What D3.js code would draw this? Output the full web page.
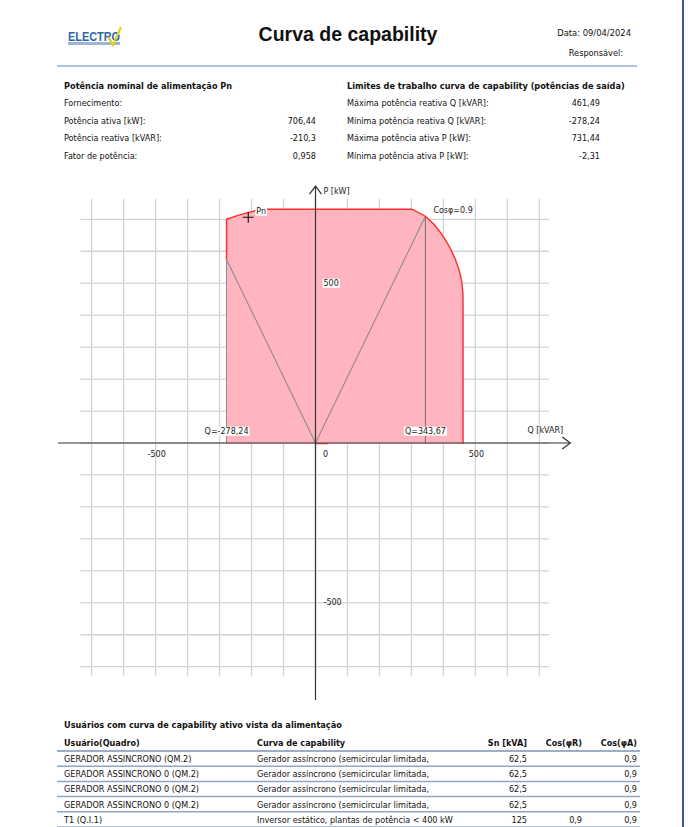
<!DOCTYPE html>
<html>
<head>
<meta charset="utf-8">
<script src="https://cdn.jsdelivr.net/npm/d3@7/dist/d3.min.js"></script>
<style>
  body { margin: 0; background: #fff; }
  text { font-family: "DejaVu Sans", Verdana, sans-serif; }
</style>
</head>
<body>
<div id="page"></div>
<script>
(function () {
    'use strict';

    // ---- data ----
    var reportDate = "09/04/2024";

    var pnLabels = ["Fornecimento:", "Potência ativa [kW]:", "Potência reativa [kVAR]:", "Fator de potência:"];
    var pnValues = ["", "706,44", "-210,3", "0,958"];

    var limitLabels = ["Máxima potência reativa Q [kVAR]:", "Mínima potência reativa Q [kVAR]:",
                       "Máxima potência ativa P [kW]:", "Mínima potência ativa P [kW]:"];
    var limitValues = ["461,49", "-278,24", "731,44", "-2,31"];

    // capability boundary (Q kVAR, P kW)
    var boundary = [
        [-278.24, 574.5], [-278.24, 700], [-240, 713], [-199, 724], [-173, 731.44],
        [302, 731.44], [343.67, 709.6], [372, 683], [393, 656], [411, 628], [424, 604],
        [437, 576], [446, 551], [453, 526], [458, 499], [461, 470], [461.49, 430],
        [461.49, -2.31]
    ];
    var minP = -2.31;
    var qMin = -278.24;
    var qCos = 343.67;
    var pCosLeft = 574.5;
    var pCosRight = 709.6;
    var pn = [-210.3, 706.44];

    var gridValues = [-700, -600, -500, -400, -300, -200, -100, 0, 100, 200, 300, 400, 500, 600, 700];
    var xTickValues = [-500, 0, 500];
    var yTickValues = [500, -500];

    var tableUsers = ["GERADOR ASSINCRONO (QM.2)", "GERADOR ASSINCRONO 0 (QM.2)", "GERADOR ASSINCRONO 0 (QM.2)",
                      "GERADOR ASSINCRONO 0 (QM.2)", "T1 (Q.I.1)"];
    var tableCurves = ["Gerador assíncrono (semicircular limitada,", "Gerador assíncrono (semicircular limitada,",
                       "Gerador assíncrono (semicircular limitada,", "Gerador assíncrono (semicircular limitada,",
                       "Inversor estático, plantas de potência < 400 kW"];
    var tableSn = ["62,5", "62,5", "62,5", "62,5", "125"];
    var tableCosR = ["", "", "", "", "0,9"];
    var tableCosA = ["0,9", "0,9", "0,9", "0,9", "0,9"];

    // ---- page ----
    var W = 689, H = 827;
    var svg = d3.select("#page").append("svg")
        .attr("width", W).attr("height", H)
        .style("display", "block");
    svg.append("rect").attr("width", W).attr("height", H).attr("fill", "#fff");

    // right page border
    svg.append("line").attr("x1", 683).attr("x2", 683).attr("y1", 0).attr("y2", H)
        .attr("stroke", "#3b5b86").attr("stroke-width", 2);

    // logo
    var logo = svg.append("g");
    logo.append("rect").attr("x", 68).attr("y", 42).attr("width", 52).attr("height", 3).attr("fill", "#9fb4d3");
    logo.append("text").attr("x", 68).attr("y", 41)
        .style("font-family", "Liberation Sans Narrow, Liberation Sans, sans-serif")
        .attr("font-size", 13).attr("font-weight", "bold").attr("fill", "#2f65ad")
        .attr("textLength", 52).attr("lengthAdjust", "spacingAndGlyphs")
        .text("ELECTRO");
    logo.append("path").attr("d", "M108,37 L113,45 L121,27")
        .attr("fill", "none").attr("stroke", "#e8d020").attr("stroke-width", 2.2);

    // title
    svg.append("text").attr("x", 348).attr("y", 41).attr("text-anchor", "middle")
        .style("font-family", "Liberation Sans, Arial, sans-serif")
        .attr("font-size", 19.5).attr("font-weight", "bold").attr("fill", "#111")
        .text("Curva de capability");

    svg.append("text").attr("x", 631).attr("y", 36).attr("text-anchor", "end")
        .attr("font-size", 8.4).attr("fill", "#111").text("Data: " + reportDate);
    svg.append("text").attr("x", 623).attr("y", 56).attr("text-anchor", "end")
        .attr("font-size", 8.2).attr("fill", "#111").text("Responsável:");

    svg.append("line").attr("x1", 57).attr("x2", 637).attr("y1", 66).attr("y2", 66)
        .attr("stroke", "#5a86bd").attr("stroke-width", 1.2);

    // info blocks
    function infoBlock(x, valueX, title, labels, values) {
        svg.append("text").attr("x", x).attr("y", 89).attr("font-size", 8.2)
            .attr("font-weight", "bold").attr("fill", "#111").text(title);
        svg.selectAll(null).data(labels).enter().append("text")
            .attr("x", x).attr("y", function (d, i) { return 106 + i * 17.7; })
            .attr("font-size", 8.1).attr("fill", "#111")
            .text(function (d) { return d; });
        svg.selectAll(null).data(values).enter().append("text")
            .attr("x", valueX).attr("y", function (d, i) { return 106 + i * 17.7; })
            .attr("text-anchor", "end").attr("font-size", 8.1).attr("fill", "#111")
            .text(function (d) { return d; });
    }
    infoBlock(64, 316, "Potência nominal de alimentação Pn", pnLabels, pnValues);
    infoBlock(347, 600, "Limites de trabalho curva de capability (potências de saída)", limitLabels, limitValues);

    // ---- capability chart ----
    var x = d3.scaleLinear().domain([-700, 700]).range([91.7, 539.3]);
    var y = d3.scaleLinear().domain([-700, 700]).range([666.7, 219.3]);
    var chart = svg.append("g");

    // grid
    chart.selectAll(null).data(gridValues).enter().append("line")
        .attr("x1", function (d) { return x(d); }).attr("x2", function (d) { return x(d); })
        .attr("y1", y(765)).attr("y2", y(-730))
        .attr("stroke", "#d3d3d3").attr("stroke-width", 1.3);
    chart.selectAll(null).data(gridValues).enter().append("line")
        .attr("y1", function (d) { return y(d); }).attr("y2", function (d) { return y(d); })
        .attr("x1", x(-735)).attr("x2", x(730))
        .attr("stroke", "#d3d3d3").attr("stroke-width", 1.3);

    // capability area
    var area = boundary.concat([[qMin, minP]]);
    var line = d3.line().x(function (d) { return x(d[0]); }).y(function (d) { return y(d[1]); });
    chart.append("path").attr("d", line(area) + "Z")
        .attr("fill", "#ffb5c0").attr("stroke", "none");

    // cos phi lines and Q limits
    chart.append("path").attr("d", line([[qMin, pCosLeft], [0, 0], [qCos, pCosRight]]))
        .attr("fill", "none").attr("stroke", "#8c8c8c").attr("stroke-width", 1.1);
    chart.append("path").attr("d", line([[qCos, 0], [qCos, pCosRight]]))
        .attr("fill", "none").attr("stroke", "#707070").attr("stroke-width", 1);
    chart.append("path").attr("d", line([[qMin, 0], [qMin, pCosLeft]]))
        .attr("fill", "none").attr("stroke", "#8c8c8c").attr("stroke-width", 1);

    // red boundary
    chart.append("path").attr("d", line(boundary))
        .attr("fill", "none").attr("stroke", "#ff2a2a").attr("stroke-width", 1.4);
    chart.append("path").attr("d", line([[0, minP], [38, minP]]))
        .attr("fill", "none").attr("stroke", "#ff4a4a").attr("stroke-width", 1.2);

    // axes
    var x0 = x(0), y0 = y(0);
    chart.append("line").attr("x1", x(-805)).attr("x2", x(797)).attr("y1", y0).attr("y2", y0)
        .attr("stroke", "#333").attr("stroke-width", 1.2);
    chart.append("line").attr("x1", x0).attr("x2", x0).attr("y1", y(804)).attr("y2", y(-804))
        .attr("stroke", "#333").attr("stroke-width", 1.2);
    chart.append("path")
        .attr("d", "M" + (x(797) - 8) + "," + (y0 - 6) + " L" + x(797) + "," + y0 + " L" + (x(797) - 8) + "," + (y0 + 6))
        .attr("fill", "none").attr("stroke", "#333").attr("stroke-width", 1.2);
    chart.append("path")
        .attr("d", "M" + (x0 - 6) + "," + (y(804) + 8) + " L" + x0 + "," + y(804) + " L" + (x0 + 6) + "," + (y(804) + 8))
        .attr("fill", "none").attr("stroke", "#333").attr("stroke-width", 1.2);

    function boxedLabel(px, py, txt, anchor, boxed) {
        var g = chart.append("g");
        var t = g.append("text").attr("x", px).attr("y", py).attr("text-anchor", anchor)
            .attr("dominant-baseline", "central").attr("font-size", 8).attr("fill", "#222").text(txt);
        if (boxed) {
            var b = t.node().getBBox();
            g.insert("rect", "text").attr("x", b.x - 1).attr("y", b.y).attr("width", b.width + 2)
                .attr("height", b.height).attr("fill", "#fff");
        }
    }

    boxedLabel(x0 + 8, y(788), "P [kW]", "start", false);
    boxedLabel(x(663), y(38), "Q [kVAR]", "start", false);

    xTickValues.forEach(function (d) {
        if (d === 0) boxedLabel(x0 + 10, y0 + 11, "0", "middle", false);
        else boxedLabel(x(d) + 1, y0 + 11, String(d), "middle", false);
    });
    yTickValues.forEach(function (d) {
        boxedLabel(x0 + 8, y(d), String(d), "start", d > 0);
    });

    boxedLabel(x(qMin), y(37), "Q=" + String(qMin).replace(".", ","), "middle", true);
    boxedLabel(x(qCos), y(37), "Q=" + String(qCos).replace(".", ","), "middle", true);
    boxedLabel(x(qCos) + 8, y(pCosRight) - 6, "Cosφ=0.9", "start", false);

    // Pn marker
    chart.append("path")
        .attr("d", "M" + (x(pn[0]) - 5.5) + "," + y(pn[1]) + " H" + (x(pn[0]) + 5.5) +
                   " M" + x(pn[0]) + "," + (y(pn[1]) - 5.5) + " V" + (y(pn[1]) + 5.5))
        .attr("stroke", "#111").attr("stroke-width", 1.1);
    boxedLabel(x(pn[0]) + 8, y(pn[1]) - 6, "Pn", "start", true);

    // ---- users table ----
    svg.append("text").attr("x", 64).attr("y", 728).attr("font-size", 8.2)
        .attr("font-weight", "bold").attr("fill", "#111")
        .text("Usuários com curva de capability ativo vista da alimentação");

    var cols = [
        {title: "Usuário(Quadro)", x: 64, anchor: "start", values: tableUsers},
        {title: "Curva de capability", x: 257, anchor: "start", values: tableCurves},
        {title: "Sn [kVA]", x: 527, anchor: "end", values: tableSn},
        {title: "Cos(φR)", x: 582, anchor: "end", values: tableCosR},
        {title: "Cos(φA)", x: 637, anchor: "end", values: tableCosA}
    ];
    var headY = 746, rowY0 = 762, rowH = 15.2;

    cols.forEach(function (c) {
        svg.append("text").attr("x", c.x).attr("y", headY).attr("text-anchor", c.anchor)
            .attr("font-size", 8.1).attr("font-weight", "bold").attr("fill", "#111").text(c.title);
        svg.selectAll(null).data(c.values).enter().append("text")
            .attr("x", c.x).attr("y", function (d, i) { return rowY0 + i * rowH; })
            .attr("text-anchor", c.anchor).attr("font-size", 8.1).attr("fill", "#111")
            .text(function (d) { return d; });
    });

    svg.selectAll(null).data(d3.range(tableUsers.length + 1)).enter().append("line")
        .attr("x1", 57).attr("x2", 640)
        .attr("y1", function (d) { return headY + 5 + d * rowH; })
        .attr("y2", function (d) { return headY + 5 + d * rowH; })
        .attr("stroke", function (d) { return d === 0 ? "#3f5f8f" : "#8fa6c6"; })
        .attr("stroke-width", function (d) { return d === 0 ? 1.2 : 1.5; });
}());
</script>
</body>
</html>
